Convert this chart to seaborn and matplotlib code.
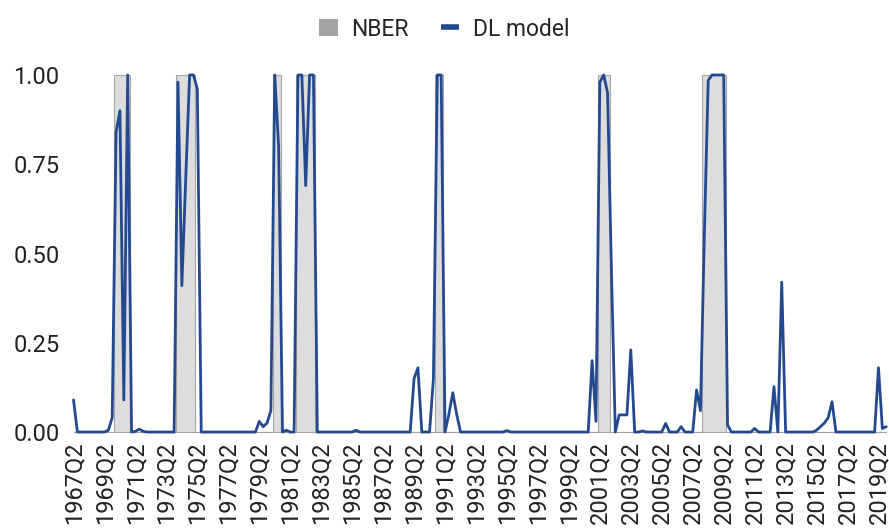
import matplotlib
matplotlib.use("Agg")
import matplotlib.pyplot as plt
import numpy as np
import pandas as pd
import seaborn as sns
from matplotlib.patches import Patch
from matplotlib.lines import Line2D

# Quarterly axis, 1967Q2 .. 2019Q4
quarters = [str(p) for p in pd.period_range("1967Q2", "2019Q4", freq="Q")]
tick_labels = quarters[::8]

# NBER recession quarters (first, last)
nber_periods = [
    ("1970Q1", "1970Q4"),
    ("1974Q1", "1975Q1"),
    ("1980Q2", "1980Q3"),
    ("1981Q4", "1982Q4"),
    ("1990Q4", "1991Q1"),
    ("2001Q2", "2001Q4"),
    ("2008Q1", "2009Q2"),
]

# DL model recession probability, one row per two years (Q2 .. Q1)
dl_model = [
    0.09, 0, 0, 0, 0, 0, 0, 0,                      # 1967Q2-
    0, 0.005, 0.04, 0.84, 0.90, 0.09, 1.0, 0.0,     # 1969Q2-
    0.002, 0.008, 0.002, 0, 0, 0, 0, 0,             # 1971Q2-
    0, 0, 0, 0.98, 0.41, 0.71, 1.0, 1.0,            # 1973Q2-
    0.96, 0, 0, 0, 0, 0, 0, 0,                      # 1975Q2-
    0, 0, 0, 0, 0, 0, 0, 0,                         # 1977Q2-
    0.03, 0.015, 0.025, 0.06, 1.0, 0.80, 0.0, 0.005,  # 1979Q2-
    0, 0, 1.0, 1.0, 0.69, 1.0, 1.0, 0.0,            # 1981Q2-
    0, 0, 0, 0, 0, 0, 0, 0,                         # 1983Q2-
    0, 0.005, 0, 0, 0, 0, 0, 0,                     # 1985Q2-
    0, 0, 0, 0, 0, 0, 0, 0,                         # 1987Q2-
    0.15, 0.18, 0, 0, 0, 0.15, 1.0, 1.0,            # 1989Q2-
    0, 0.05, 0.11, 0.05, 0, 0, 0, 0,                # 1991Q2-
    0, 0, 0, 0, 0, 0, 0, 0,                         # 1993Q2-
    0.004, 0, 0, 0, 0, 0, 0, 0,                     # 1995Q2-
    0, 0, 0, 0, 0, 0, 0, 0,                         # 1997Q2-
    0, 0, 0, 0, 0, 0, 0.20, 0.03,                   # 1999Q2-
    0.98, 1.0, 0.95, 0.45, 0.0, 0.048, 0.048, 0.048,  # 2001Q2-
    0.23, 0, 0, 0.003, 0, 0, 0, 0,                  # 2003Q2-
    0, 0.024, 0, 0, 0, 0.015, 0, 0,                 # 2005Q2-
    0, 0.118, 0.06, 0.55, 0.985, 1.0, 1.0, 1.0,     # 2007Q2-
    1.0, 0.02, 0, 0, 0, 0, 0, 0,                    # 2009Q2-
    0.01, 0, 0, 0, 0, 0.127, 0, 0.42,               # 2011Q2-
    0, 0, 0, 0, 0, 0, 0, 0,                         # 2013Q2-
    0.005, 0.015, 0.025, 0.04, 0.085, 0, 0, 0,      # 2015Q2-
    0, 0, 0, 0, 0, 0, 0, 0,                         # 2017Q2-
    0.18, 0.01, 0.015,                              # 2019Q2-
]

line_color = "#24498f"
fill_color = "#dddddd"
fill_edge = "#a5a5a5"
legend_gray = "#a3a3a3"

pos = np.arange(len(quarters))
nber = np.zeros(len(quarters))
for start, end in nber_periods:
    nber[quarters.index(start):quarters.index(end) + 1] = 1.0

df = pd.DataFrame({"pos": pos, "quarter": quarters, "DL model": dl_model, "NBER": nber})

sns.set_theme(style="white")
plt.rcParams["font.family"] = ["Roboto", "DejaVu Sans"]

fig = plt.figure(figsize=(8.89, 5.29), dpi=100)
ax = fig.add_axes([72 / 889, 1 - 435.6 / 529, 816 / 889, 364.2 / 529])

ax.fill_between(df["pos"], df["NBER"], step="mid", facecolor=fill_color,
                edgecolor=fill_edge, linewidth=0.8, zorder=1)
sns.lineplot(data=df, x="pos", y="DL model", ax=ax, color=line_color,
             linewidth=2.0, zorder=3, legend=False)

ax.set_xlim(-0.39, 210.46)
ax.set_ylim(-0.01, 1.01)
ax.set_xticks(pos[::8])
ax.set_xticklabels(tick_labels, rotation=90)
ax.set_yticks([0, 0.25, 0.5, 0.75, 1.0])
ax.set_yticklabels([f"{v:.2f}" for v in [0, 0.25, 0.5, 0.75, 1.0]])
ax.set_xlabel("")
ax.set_ylabel("")
ax.tick_params(axis="both", length=0, labelsize=17, colors="#222222")
ax.tick_params(axis="y", pad=9)
ax.tick_params(axis="x", pad=4)
sns.despine(ax=ax, left=True, bottom=True)

handles = [
    Patch(facecolor=legend_gray, edgecolor="none"),
    Line2D([], [], color=line_color, linewidth=4, solid_capstyle="butt"),
]
fig.legend(handles, ["NBER", "DL model"], loc="center",
           bbox_to_anchor=(0.5, 1 - 29 / 529), ncol=2, frameon=False,
           fontsize=16.5, handlelength=0.8, handleheight=0.8,
           handletextpad=0.6, columnspacing=1.4)

fig.savefig("out.png", dpi=100)
